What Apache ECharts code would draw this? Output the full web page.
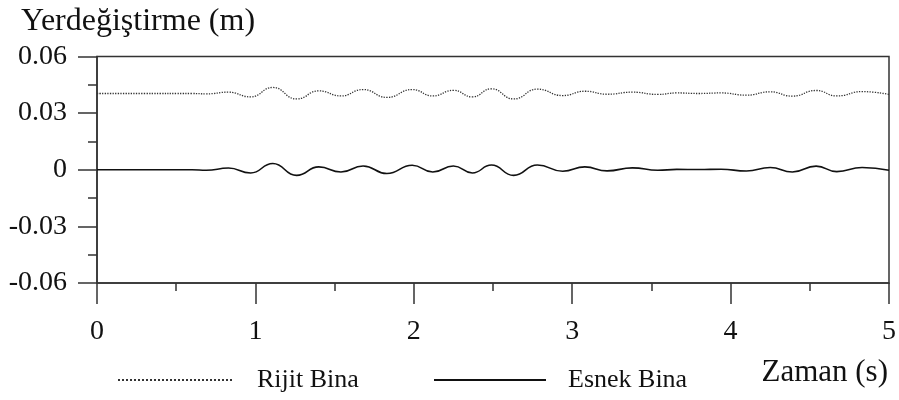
<!DOCTYPE html>
<html>
<head>
<meta charset="utf-8">
<script src="https://cdn.jsdelivr.net/npm/echarts@6/dist/echarts.min.js"></script>
<style>html,body{margin:0;padding:0;background:#fff}#c{width:899px;height:400px}</style>
</head>
<body>
<div id="c"></div>
<script>
// Time samples (s) at which the curves were read (extrema / flat points)
const times = [0, 0.3, 0.6, 0.69, 0.83, 0.97, 1.11, 1.26, 1.40, 1.54, 1.68, 1.83, 1.99, 2.12, 2.25, 2.37, 2.49, 2.63, 2.78, 2.94, 3.08, 3.22, 3.38, 3.54, 3.66, 3.80, 3.94, 4.10, 4.25, 4.39, 4.54, 4.67, 4.83, 5.0];
// Rijit Bina displacement (m)
const rijit = [0.0404, 0.0404, 0.0404, 0.0402, 0.0411, 0.0386, 0.0436, 0.0375, 0.0418, 0.0391, 0.0425, 0.0383, 0.0425, 0.0391, 0.0421, 0.0386, 0.0429, 0.0375, 0.0427, 0.0393, 0.0416, 0.0400, 0.0411, 0.0399, 0.0407, 0.0404, 0.0407, 0.0395, 0.0413, 0.0390, 0.0420, 0.0391, 0.0414, 0.0399];
// Esnek Bina displacement (m)
const esnek = [0, 0, 0, -0.0003, 0.0009, -0.0017, 0.0033, -0.0030, 0.0015, -0.0012, 0.0020, -0.0020, 0.0024, -0.0012, 0.0020, -0.0017, 0.0025, -0.0030, 0.0025, -0.0008, 0.0015, -0.0006, 0.0010, -0.0003, 0.0002, 0.0001, 0.0003, -0.0007, 0.0012, -0.0012, 0.0019, -0.0010, 0.0012, -0.0003];
const seriesNames = ['Rijit Bina', 'Esnek Bina'];
const yTitle = 'Yerdeğiştirme (m)';
const xTitle = 'Zaman (s)';

const font = 'Liberation Serif';
const axisColor = '#333';
const pair = (vals) => times.map((t, i) => [t, vals[i]]);

const legendBase = {itemHeight: 14, itemGap: 0, padding: 0, top: 367,
  itemStyle: {color: 'rgba(0,0,0,0)', borderWidth: 0, opacity: 0}};

const chart = echarts.init(document.getElementById('c'), null, {renderer: 'canvas'});
chart.setOption({
  animation: false,
  backgroundColor: '#fff',
  title: [
    {text: yTitle, left: 16, top: 1, textStyle: {fontFamily: font, fontSize: 32, fontWeight: 'normal', color: '#111'}},
    {text: xTitle, right: 6, top: 352, textStyle: {fontFamily: font, fontSize: 31, fontWeight: 'normal', color: '#111'}}
  ],
  legend: [
    Object.assign({data: [seriesNames[0]], left: 117, itemWidth: 115,
      textStyle: {fontFamily: font, fontSize: 26, color: '#111', padding: [0, 0, 0, 19]}}, legendBase),
    Object.assign({data: [seriesNames[1]], left: 433, itemWidth: 112,
      textStyle: {fontFamily: font, fontSize: 26, color: '#111', padding: [0, 0, 0, 17]}}, legendBase)
  ],
  grid: {left: 97, right: 6, top: 56.5, bottom: 117, show: true, borderColor: axisColor, borderWidth: 1.5, backgroundColor: 'transparent'},
  xAxis: {
    type: 'value', min: 0, max: 5, interval: 1,
    axisLine: {show: true, onZero: false, lineStyle: {color: axisColor, width: 1.5}},
    axisTick: {show: true, inside: false, length: 21, lineStyle: {color: axisColor, width: 1.5}},
    minorTick: {show: true, splitNumber: 2, length: 8, lineStyle: {color: axisColor, width: 1.5}},
    splitLine: {show: false},
    axisLabel: {fontFamily: font, fontSize: 28, color: '#111', margin: 35}
  },
  yAxis: {
    type: 'value', min: -0.06, max: 0.06, interval: 0.03,
    axisLine: {show: true, onZero: false, lineStyle: {color: axisColor, width: 1.5}},
    axisTick: {show: true, inside: false, length: 19, lineStyle: {color: axisColor, width: 1.5}},
    minorTick: {show: true, splitNumber: 2, length: 9, lineStyle: {color: axisColor, width: 1.5}},
    splitLine: {show: false},
    axisLabel: {fontFamily: font, fontSize: 28, color: '#111', margin: 30,
      formatter: (v) => Math.abs(v) < 1e-9 ? '0' : v.toFixed(2)}
  },
  series: [
    {name: seriesNames[0], type: 'line', data: pair(rijit), symbol: 'none', smooth: 0.5, smoothMonotone: 'x',
     lineStyle: {type: 'dotted', width: 1.3, color: '#333'}, itemStyle: {color: '#333'}},
    {name: seriesNames[1], type: 'line', data: pair(esnek), symbol: 'none', smooth: 0.5, smoothMonotone: 'x',
     lineStyle: {type: 'solid', width: 1.6, color: '#111'}, itemStyle: {color: '#111'}}
  ]
});
</script>
</body>
</html>
